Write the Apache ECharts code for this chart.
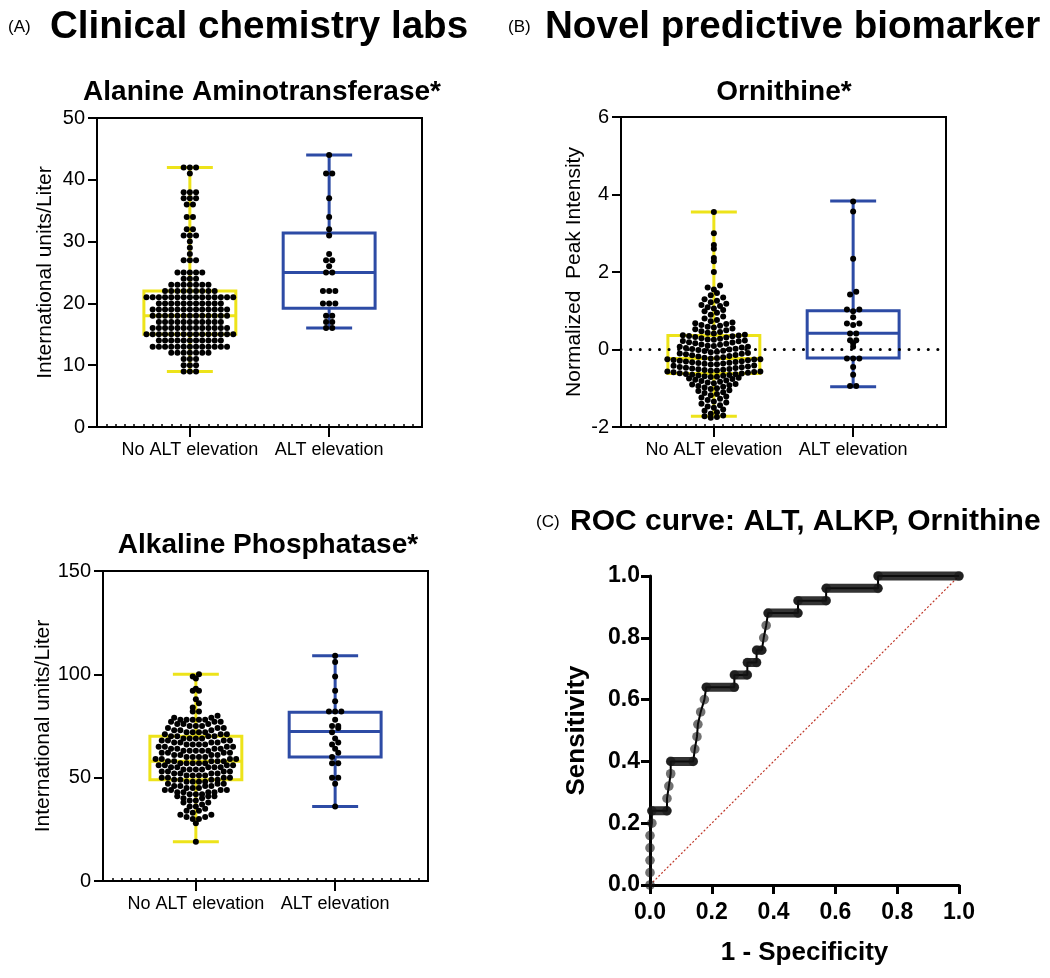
<!DOCTYPE html>
<html>
<head>
<meta charset="utf-8">
<script src="https://cdn.jsdelivr.net/npm/echarts@6/dist/echarts.min.js"></script>
<style>
  html, body { margin: 0; padding: 0; background: #fff; }
  #main { width: 1050px; height: 978px; }
</style>
</head>
<body>
<div id="main"></div>
<script>
// groups on the box panels
const groups = ['No ALT elevation', 'ALT elevation'];

// Alanine Aminotransferase (U/L): row value + number of dots in that row
const altNoVals = [9, 10, 11, 12, 13, 14, 15, 16, 17, 18, 19, 20, 21, 22, 23, 24, 25, 27, 28, 29, 30, 31, 32, 34, 36, 37, 38, 41, 42];
const altNoCounts = [3, 3, 3, 7, 13, 11, 15, 13, 11, 13, 13, 11, 15, 9, 7, 3, 5, 3, 1, 1, 1, 3, 2, 2, 2, 3, 3, 1, 3];
const altYesVals = [16, 17, 18, 20, 22, 25, 26, 27, 28, 31, 32, 34, 37, 41, 44];
const altYesCounts = [2, 2, 2, 3, 3, 2, 1, 2, 1, 1, 1, 1, 1, 2, 1];

// Alkaline Phosphatase (U/L)
const alkpNoVals = [19, 28, 30, 31, 32, 33, 34, 35, 36, 37, 38, 39, 40, 41, 42, 43, 44, 45, 46, 47, 48, 49, 50, 51, 52, 53, 54, 55, 56, 57, 58, 59, 60, 61, 62, 63, 64, 65, 66, 67, 68, 69, 70, 71, 72, 73, 74, 75, 76, 77, 78, 79, 80, 82, 84, 86, 88, 92, 93, 98, 99, 100];
const alkpNoCounts = [1, 1, 2, 2, 2, 1, 2, 1, 2, 1, 2, 2, 2, 3, 3, 4, 4, 3, 4, 3, 4, 4, 4, 4, 4, 4, 4, 5, 4, 5, 5, 4, 4, 4, 4, 5, 4, 4, 4, 4, 4, 4, 4, 3, 4, 3, 3, 3, 3, 3, 5, 2, 1, 2, 1, 1, 1, 2, 1, 1, 1, 1];
const alkpYes = [36, 47, 50, 50, 57, 57, 60, 62, 64, 66, 67, 69, 72, 74, 75, 75, 78, 82, 82, 82, 87, 92, 99, 106, 109];

// Ornithine, normalized peak intensity
const ornNo = [
  -1.76, -1.74, -1.72, -1.70, -1.66, -1.62, -1.58, -1.55, -1.50, -1.47, -1.44, -1.40, -1.37,
  -1.34, -1.30, -1.27, -1.24, -1.21, -1.18, -1.15, -1.12, -1.10, -1.07, -1.05,
  -1.02, -1.00, -0.98, -0.96, -0.94, -0.92, -0.90, -0.89,
  -0.87, -0.85, -0.83, -0.81, -0.80, -0.78, -0.76, -0.75, -0.73,
  -0.71, -0.70, -0.69, -0.68, -0.67, -0.66, -0.65, -0.64, -0.63, -0.62, -0.61, -0.60, -0.59, -0.58, -0.57, -0.57,
  -0.55, -0.54, -0.53, -0.52, -0.51, -0.50, -0.49, -0.48, -0.47, -0.46, -0.45, -0.44, -0.42, -0.41,
  -0.39, -0.38, -0.37, -0.36, -0.35, -0.34, -0.33, -0.32, -0.31, -0.30, -0.29, -0.28, -0.27, -0.26, -0.25, -0.25,
  -0.23, -0.22, -0.21, -0.20, -0.18, -0.17, -0.15, -0.14, -0.12, -0.11, -0.10, -0.09,
  -0.07, -0.06, -0.04, -0.03, -0.01, 0.00, 0.01, 0.02, 0.04, 0.05, 0.07, 0.07,
  0.09, 0.10, 0.12, 0.13, 0.15, 0.16, 0.18, 0.19, 0.21, 0.22, 0.23,
  0.25, 0.26, 0.28, 0.29, 0.31, 0.32, 0.34, 0.35, 0.36, 0.37, 0.38,
  0.41, 0.43, 0.45, 0.47, 0.50, 0.52, 0.54, 0.57, 0.59, 0.61, 0.63, 0.66, 0.68, 0.70,
  0.73, 0.76, 0.80, 0.85, 0.90, 0.95, 0.99, 1.02, 1.06, 1.09, 1.12, 1.15, 1.18,
  1.22, 1.26, 1.30, 1.34, 1.40, 1.46, 1.55, 1.60, 1.65,
  2.00, 2.28, 2.36, 2.60, 2.70, 3.00, 3.55
];
const ornYes = [3.82, 3.56, 2.34, 1.49, 1.42, 1.03, 1.03, 0.99, 0.83, 0.67, 0.67, 0.63, 0.41, 0.41, 0.24, 0.24, 0.16, 0.07, -0.23, -0.23, -0.23, -0.45, -0.65, -0.94, -0.94];

// box statistics [min, q1, median, q3, max] per group
const altBox = [[9, 15, 18, 22, 42], [16, 19.2, 25, 31.4, 44]];
const alkpBox = [[19, 49, 58, 70, 100], [36, 60, 72.3, 81.7, 109]];
const ornBox = [[-1.72, -0.62, -0.23, 0.36, 3.55], [-0.96, -0.22, 0.42, 1.0, 3.83]];

// ROC curve corner points
const rocFpr = [0, 0, 0, 0, 0, 0.006, 0.006, 0.055, 0.055, 0.061, 0.067, 0.067, 0.14, 0.145, 0.152, 0.155, 0.164, 0.176, 0.182, 0.273, 0.273, 0.315, 0.315, 0.345, 0.345, 0.362, 0.368, 0.376, 0.382, 0.479, 0.479, 0.57, 0.57, 0.738, 0.738, 1];
const rocTpr = [0, 0.04, 0.08, 0.12, 0.16, 0.2, 0.24, 0.24, 0.28, 0.32, 0.36, 0.4, 0.4, 0.44, 0.48, 0.52, 0.56, 0.6, 0.64, 0.64, 0.68, 0.68, 0.72, 0.72, 0.76, 0.76, 0.8, 0.84, 0.88, 0.88, 0.92, 0.92, 0.96, 0.96, 1, 1];

const FONT = 'Liberation Sans, Arial, Helvetica, sans-serif';
const YELLOW = '#EDE31A';
const BLUE = '#2D4BA5';
const DOT = 6.2;   // dot diameter / swarm spacing in px

function expand(vals, counts) {
  const out = [];
  vals.forEach((v, i) => { for (let k = 0; k < counts[i]; k++) out.push(v); });
  return out;
}

function txt(x, y, text, size, bold, align) {
  return {
    type: 'text', x: x, y: y, silent: true,
    style: {
      text: text, fontSize: size, fontWeight: bold ? 'bold' : 'normal',
      fontFamily: FONT, fill: '#000', align: align || 'left', verticalAlign: 'middle'
    }
  };
}

function catAxis(g) {
  return {
    type: 'value', gridIndex: g, position: 'bottom', min: -2 / 3, max: 5 / 3,
    axisLine: { show: true, onZero: false, lineStyle: { color: '#000', width: 2 } },
    axisTick: { show: true, customValues: [0, 1], length: 10, lineStyle: { color: '#000', width: 2 } },
    axisLabel: {
      customValues: [0, 1], formatter: v => groups[Math.round(v)],
      fontSize: 18, color: '#000', fontFamily: FONT, margin: 14
    },
    splitLine: { show: false }
  };
}

// small inside ticks along the bottom of the box panels
function minorAxis(g) {
  return {
    type: 'value', gridIndex: g, position: 'bottom', min: 0, max: 35, interval: 1,
    axisLine: { show: false, onZero: false },
    axisTick: { show: true, inside: true, length: 3, lineStyle: { color: '#000', width: 1.5 } },
    axisLabel: { show: false },
    splitLine: { show: false }
  };
}

function boxYAxis(g, min, max, interval, name, gap, nameSize) {
  return {
    type: 'value', gridIndex: g, position: 'left', min: min, max: max, interval: interval,
    axisLine: { show: true, onZero: false, lineStyle: { color: '#000', width: 2 } },
    axisTick: { show: true, length: 9, lineStyle: { color: '#000', width: 2 } },
    axisLabel: { fontSize: 20, color: '#000', fontFamily: FONT, margin: 12 },
    splitLine: { show: false },
    name: name, nameLocation: 'middle', nameGap: gap,
    nameTextStyle: { fontSize: nameSize, color: '#000', fontFamily: FONT }
  };
}

function renderBox(params, api) {
  const g = api.value(0);
  const color = g === 0 ? YELLOW : BLUE;
  const hw = 0.33, cw = 0.165;
  const yMin = api.coord([g, api.value(1)])[1];
  const yQ1 = api.coord([g, api.value(2)])[1];
  const yMed = api.coord([g, api.value(3)])[1];
  const yQ3 = api.coord([g, api.value(4)])[1];
  const yMax = api.coord([g, api.value(5)])[1];
  const xc = api.coord([g, api.value(3)])[0];
  const xl = api.coord([g - hw, api.value(3)])[0];
  const xr = api.coord([g + hw, api.value(3)])[0];
  const cl = api.coord([g - cw, api.value(3)])[0];
  const cr = api.coord([g + cw, api.value(3)])[0];
  const st = { stroke: color, lineWidth: 3, fill: 'none' };
  const line = (x1, y1, x2, y2) => ({ type: 'line', shape: { x1: x1, y1: y1, x2: x2, y2: y2 }, style: st });
  return {
    type: 'group',
    children: [
      line(xc, yQ3, xc, yMax),
      line(xc, yQ1, xc, yMin),
      line(cl, yMax, cr, yMax),
      line(cl, yMin, cr, yMin),
      { type: 'rect', shape: { x: xl, y: yQ3, width: xr - xl, height: yQ1 - yQ3 }, style: st },
      line(xl, yMed, xr, yMed)
    ]
  };
}

function boxSeries(stats, xi, yi, extra) {
  return Object.assign({
    type: 'custom', xAxisIndex: xi, yAxisIndex: yi, z: 2, silent: true,
    renderItem: renderBox,
    encode: { x: 0, y: [1, 2, 3, 4, 5] },
    data: stats.map((s, i) => [i].concat(s))
  }, extra || {});
}

function dotSeries(id, xi, yi) {
  return {
    id: id, type: 'scatter', xAxisIndex: xi, yAxisIndex: yi, z: 3, silent: true,
    symbolSize: 6, itemStyle: { color: '#000', opacity: 1 }, data: []
  };
}

function renderRoc(params, api) {
  const i = params.dataIndex;
  const p = api.coord([api.value(0), api.value(1)]);
  const children = [];
  if (i < rocFpr.length - 1 && rocTpr[i + 1] === rocTpr[i]) {
    const q = api.coord([rocFpr[i + 1], rocTpr[i + 1]]);
    children.push({
      type: 'line', shape: { x1: p[0], y1: p[1], x2: q[0], y2: q[1] },
      style: { stroke: 'rgba(15,15,15,0.85)', lineWidth: 9, lineCap: 'round' }
    });
  }
  children.push({
    type: 'circle', shape: { cx: p[0], cy: p[1], r: 4.8 },
    style: { fill: 'rgba(20,20,20,0.6)' }
  });
  return { type: 'group', children: children };
}

const rocAxisLabel = { fontSize: 23, fontWeight: 'bold', color: '#000', fontFamily: FONT, formatter: v => v.toFixed(1) };

const option = {
  animation: false,
  backgroundColor: '#fff',
  graphic: [
    txt(8, 27, '(A)', 17),
    txt(50, 27, 'Clinical chemistry labs', 38.6, true),
    txt(508, 27, '(B)', 17),
    txt(545, 27, 'Novel predictive biomarker', 38.6, true),
    txt(262, 92, 'Alanine Aminotransferase*', 28, true, 'center'),
    txt(784, 92, 'Ornithine*', 28, true, 'center'),
    txt(268, 545, 'Alkaline Phosphatase*', 28, true, 'center'),
    txt(536, 522, '(C)', 17),
    txt(570, 522, 'ROC curve: ALT, ALKP, Ornithine', 30, true)
  ],
  grid: [
    { left: 97, top: 118, width: 325, height: 309, show: true, borderColor: '#000', borderWidth: 2, backgroundColor: 'transparent' },
    { left: 621, top: 117, width: 325, height: 310, show: true, borderColor: '#000', borderWidth: 2, backgroundColor: 'transparent' },
    { left: 103, top: 571, width: 325, height: 310, show: true, borderColor: '#000', borderWidth: 2, backgroundColor: 'transparent' },
    { left: 650, top: 576, width: 309, height: 309 }
  ],
  xAxis: [
    catAxis(0), catAxis(1), catAxis(2),
    minorAxis(0), minorAxis(1), minorAxis(2),
    {
      type: 'value', gridIndex: 3, position: 'bottom', min: 0, max: 1, interval: 0.2,
      axisLine: { show: true, onZero: false, lineStyle: { color: '#000', width: 3 } },
      axisTick: { show: true, length: 9, lineStyle: { color: '#000', width: 3 } },
      axisLabel: Object.assign({ margin: 16 }, rocAxisLabel),
      splitLine: { show: false },
      name: '1 - Specificity', nameLocation: 'middle', nameGap: 55,
      nameTextStyle: { fontSize: 26, fontWeight: 'bold', color: '#000', fontFamily: FONT }
    }
  ],
  yAxis: [
    boxYAxis(0, 0, 50, 10, 'International units/Liter', 41, 21),
    boxYAxis(1, -2, 6, 2, 'Normalized  Peak Intensity', 36, 21),
    boxYAxis(2, 0, 150, 50, 'International units/Liter', 47, 21),
    {
      type: 'value', gridIndex: 3, position: 'left', min: 0, max: 1, interval: 0.2,
      axisLine: { show: true, onZero: false, lineStyle: { color: '#000', width: 3 } },
      axisTick: { show: true, length: 9, lineStyle: { color: '#000', width: 3 } },
      axisLabel: Object.assign({ margin: 10 }, rocAxisLabel),
      splitLine: { show: false },
      name: 'Sensitivity', nameLocation: 'middle', nameGap: 60,
      nameTextStyle: { fontSize: 26, fontWeight: 'bold', color: '#000', fontFamily: FONT }
    }
  ],
  series: [
    boxSeries(altBox, 0, 0),
    dotSeries('altNo', 0, 0),
    dotSeries('altYes', 0, 0),
    boxSeries(ornBox, 1, 1, {
      markLine: {
        silent: true, symbol: 'none', label: { show: false },
        lineStyle: { color: '#000', width: 3, type: [0.1, 9.5], cap: 'round' },
        data: [{ yAxis: 0 }]
      }
    }),
    dotSeries('ornNo', 1, 1),
    dotSeries('ornYes', 1, 1),
    boxSeries(alkpBox, 2, 2),
    dotSeries('alkpNo', 2, 2),
    dotSeries('alkpYes', 2, 2),
    {
      type: 'line', xAxisIndex: 6, yAxisIndex: 3, z: 1, silent: true,
      symbol: 'none', data: [[0, 0], [1, 1]],
      lineStyle: { color: '#C0392B', width: 1.2, type: [2, 2] }
    },
    {
      type: 'line', xAxisIndex: 6, yAxisIndex: 3, z: 2, silent: true,
      symbol: 'none', data: rocFpr.map((x, i) => [x, rocTpr[i]]),
      lineStyle: { color: '#000', width: 2 }
    },
    {
      type: 'custom', xAxisIndex: 6, yAxisIndex: 3, z: 3, silent: true,
      renderItem: renderRoc, encode: { x: 0, y: 1 },
      data: rocFpr.map((x, i) => [x, rocTpr[i]])
    }
  ]
};

const chart = echarts.init(document.getElementById('main'));
chart.setOption(option);

// beeswarm: rows one dot high, dots spread sideways from the group centre
function swarm(values, g, xi, yi) {
  const finder = { xAxisIndex: xi, yAxisIndex: yi };
  const p0 = chart.convertToPixel(finder, [0, 0]);
  const p1 = chart.convertToPixel(finder, [1, 1]);
  const ux = p1[0] - p0[0];
  const uy = p0[1] - p1[1];
  const yMin = option.yAxis[yi].min;
  const binH = DOT / uy;
  const bins = {};
  values.slice().sort((a, b) => a - b).forEach(v => {
    const k = Math.floor((v - yMin) / binH + 1e-6);
    (bins[k] = bins[k] || []).push(v);
  });
  const pts = [];
  Object.keys(bins).forEach(k => {
    const arr = bins[k];
    const n = arr.length;
    const slots = [];
    for (let i = 0; i < n; i++) slots.push(i - (n - 1) / 2);
    slots.sort((a, b) => Math.abs(a) - Math.abs(b) || a - b);
    arr.forEach((v, i) => pts.push([g + slots[i] * DOT / ux, v]));
  });
  return pts;
}

chart.setOption({
  series: [
    { id: 'altNo', data: swarm(expand(altNoVals, altNoCounts), 0, 0, 0) },
    { id: 'altYes', data: swarm(expand(altYesVals, altYesCounts), 1, 0, 0) },
    { id: 'ornNo', data: swarm(ornNo, 0, 1, 1) },
    { id: 'ornYes', data: swarm(ornYes, 1, 1, 1) },
    { id: 'alkpNo', data: swarm(expand(alkpNoVals, alkpNoCounts), 0, 2, 2) },
    { id: 'alkpYes', data: swarm(alkpYes, 1, 2, 2) }
  ]
});
</script>
</body>
</html>
